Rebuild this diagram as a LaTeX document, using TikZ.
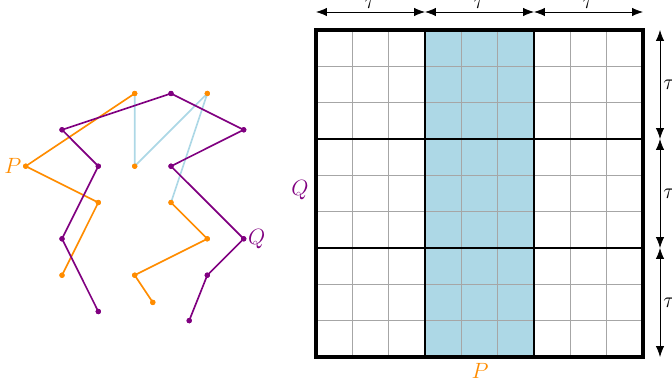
\documentclass[tikz,border=0pt]{standalone}
\usetikzlibrary{arrows.meta,calc}
\definecolor{pcol}{RGB}{255,140,0}
\definecolor{qcol}{RGB}{128,0,128}
\definecolor{lb}{RGB}{173,216,230}
\begin{document}
\begin{tikzpicture}[x=0.0275cm,y=-0.0275cm,
  ppath/.style={pcol,line width=1.3pt,line join=round},
  qpath/.style={qcol,line width=1.3pt,line join=round},
  bpath/.style={lb,line width=1.3pt,line join=round},
  pdot/.style={circle,fill=pcol,inner sep=0pt,minimum size=4.2pt},
  qdot/.style={circle,fill=qcol,inner sep=0pt,minimum size=4.2pt},
  lab/.style={font=\fontsize{17}{20}\selectfont},
  dim/.style={{Latex[length=8.5pt,width=6.5pt]}-{Latex[length=8.5pt,width=6.5pt]},line width=0.6pt},
  thingrid/.style={gray!70,line width=0.5pt},
  midline/.style={black,line width=1.2pt},
  frame/.style={black,line width=3pt}]
\useasboundingbox (0,0) rectangle (672,387);
% ---- left curves
\node[qdot] (q1) at (98.3,311.5) {};
\node[qdot] (q2) at (62,238.8) {};
\node[qdot] (q3) at (98.3,166.2) {};
\node[qdot] (q4) at (62,129.8) {};
\node[qdot] (q5) at (171,93.5) {};
\node[qdot] (q6) at (243.7,129.8) {};
\node[qdot] (q7) at (171,166.2) {};
\node[qdot] (q8) at (243.7,238.8) {};
\node[qdot] (q9) at (207.3,275.2) {};
\node[qdot] (q10) at (189.2,320.6) {};
\node[pdot] (p1) at (62,275.2) {};
\node[pdot] (p2) at (98.3,202.5) {};
\node[pdot] (p3) at (25.7,166.2) {};
\node[pdot] (p4) at (134.7,93.5) {};
\node[pdot] (p5) at (134.7,166.2) {};
\node[pdot] (p6) at (207.3,93.5) {};
\node[pdot] (p7) at (171,202.5) {};
\node[pdot] (p8) at (207.3,238.8) {};
\node[pdot] (p9) at (134.7,275.2) {};
\node[pdot] (p10) at (152.8,302.4) {};
\draw[bpath] (p4.center) -- (p5.center) -- (p6.center) -- (p7.center);
\draw[ppath] (p1.center) -- (p2.center) -- (p3.center) -- (p4.center);
\draw[ppath] (p7.center) -- (p8.center) -- (p9.center) -- (p10.center);
\draw[qpath] (q1.center) -- (q2.center) -- (q3.center) -- (q4.center) -- (q5.center) -- (q6.center) -- (q7.center) -- (q8.center) -- (q9.center) -- (q10.center);
\foreach \n in {p1,p2,p3,p4,p5,p6,p7,p8,p9,p10} \node[pdot] at (\n) {};
\foreach \n in {q1,q2,q3,q4,q5,q6,q7,q8,q9,q10} \node[qdot] at (\n) {};
\node[lab,text=pcol,anchor=east,inner sep=1pt] (lp) at (p3.west) {$P$};
\node[lab,text=qcol,anchor=west,inner sep=1pt] (lq) at (q8.east) {$Q$};
% ---- right grid
\fill[lb] (425,30) rectangle (534,357);
\foreach \i in {1,...,8} {
  \draw[thingrid] ({316+36.33*\i},30) -- ({316+36.33*\i},357);
  \draw[thingrid] (316,{30+36.33*\i}) -- (643,{30+36.33*\i});
}
\draw[midline] (425,30) -- (425,357);
\draw[midline] (534,30) -- (534,357);
\draw[midline] (316,139) -- (643,139);
\draw[midline] (316,248) -- (643,248);
\draw[frame] (316,30) rectangle (643,357);
\node[lab,text=qcol,anchor=east] (gq) at (313,190) {$Q$};
\node[lab,text=pcol,anchor=north,inner sep=1pt] (gp) at (480,362) {$P$};
% ---- dimension arrows
\coordinate (t0) at (316,12);
\coordinate (t1) at (425,12);
\coordinate (t2) at (534,12);
\coordinate (t3) at (643,12);
\draw[dim] (t0) -- (t1);
\draw[dim] (t1) -- (t2);
\draw[dim] (t2) -- (t3);
\foreach \a/\b in {t0/t1,t1/t2,t2/t3}
  \node[lab,anchor=base] at ($(\a)!0.5!(\b)+(0,-3)$) {$\tau$};
\coordinate (r0) at (660,30);
\coordinate (r1) at (660,139);
\coordinate (r2) at (660,248);
\coordinate (r3) at (660,357);
\draw[dim] (r0) -- (r1);
\draw[dim] (r1) -- (r2);
\draw[dim] (r2) -- (r3);
\foreach \a/\b in {r0/r1,r1/r2,r2/r3}
  \node[lab,anchor=west,inner sep=0pt] at ($(\a)!0.5!(\b)+(3,0)$) {$\tau$};
\end{tikzpicture}
\end{document}
